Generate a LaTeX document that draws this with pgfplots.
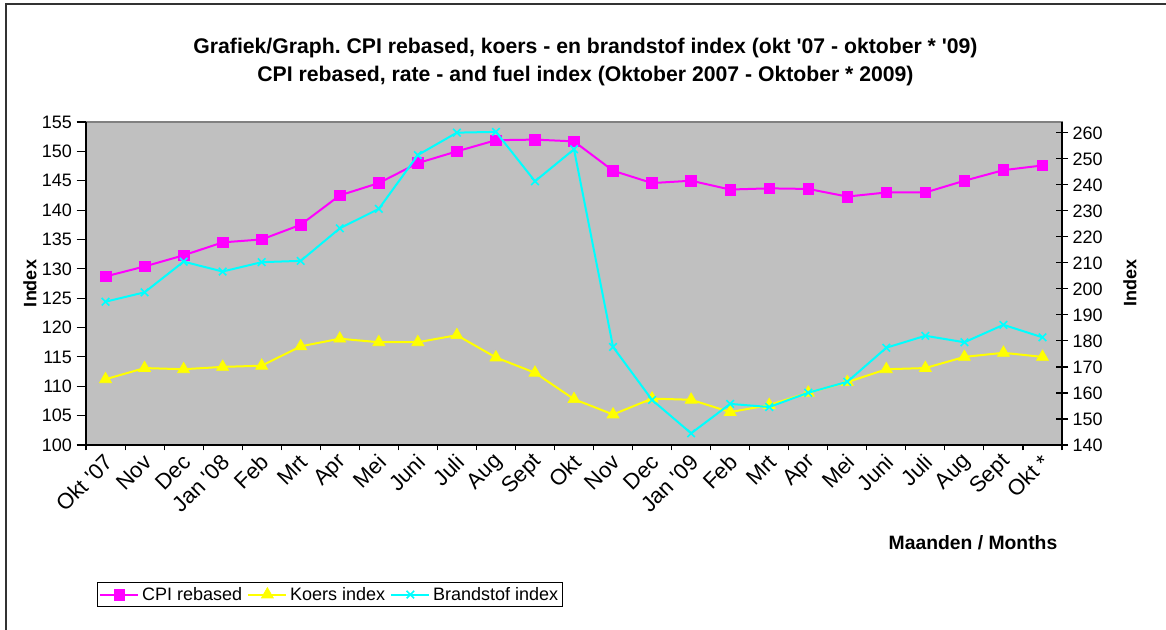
\documentclass[border=0pt]{standalone}
\usepackage{pgfplots}
\pgfplotsset{compat=1.18}
\usepackage{fontspec}
\setmainfont{Liberation Sans}
\frenchspacing
\newcommand\q{\textquotesingle}
\definecolor{plotbg}{RGB}{192,192,192}
\definecolor{cpi}{RGB}{255,0,255}
\definecolor{koers}{RGB}{255,255,0}
\definecolor{brand}{RGB}{0,255,255}
\pgfplotsset{
  common/.style={
    scale only axis,
    width=732pt, height=242.25pt,
    at={(64.5pt,138.75pt)}, anchor=south west,
    xmin=-0.5, xmax=24.5,
    /pgf/number format/assume math mode=true,
    tick label style={font=\fontsize{13.5}{16}\selectfont},
    label style={font=\fontsize{13.5}{16}\selectfont\bfseries},
    axis line style={black, line width=1pt},
    every tick/.style={black, line width=0.8pt},
  }
}
\begin{document}
\begin{tikzpicture}
\useasboundingbox (0,0) rectangle (874.5pt,472.5pt);
\draw[line width=1.2pt, black!80] (4.7pt,0) -- (4.7pt,469.5pt) -- (874.5pt,469.5pt);
\node[align=center, font=\fontsize{15.9}{21}\selectfont\bfseries] at (439.1pt,426pt)
  {Grafiek/Graph. CPI rebased, koers - en brandstof index (okt \q07 - oktober * \q09)\\
   CPI rebased, rate - and fuel index (Oktober 2007 - Oktober * 2009)};
\begin{axis}[common,
  axis background/.style={fill=plotbg, draw=black!50, line width=1pt},
  axis x line*=bottom, axis y line*=left,
  ymin=100, ymax=155, ytick={100,105,...,155},
  xtick={0,...,24},
  xticklabels={Okt \q07,Nov,Dec,Jan \q08,Feb,Mrt,Apr,Mei,Juni,Juli,Aug,Sept,Okt,Nov,Dec,Jan \q09,Feb,Mrt,Apr,Mei,Juni,Juli,Aug,Sept,Okt *},
  major x tick style={draw=none},
  minor xtick={-0.5,0.5,...,24.5},
  minor x tick style={black, line width=0.8pt},
  tick align=outside, minor tick length=4pt,
  major tick length=7pt,
  xticklabel style={rotate=45, anchor=east, xshift=3pt, yshift=-4pt, font=\fontsize{16.5}{18}\selectfont},
  xlabel={Maanden / Months},
  xlabel style={at={(rel axis cs:1,-0.303)}, anchor=east, font=\fontsize{14.5}{17}\selectfont\bfseries},
  ylabel={Index},
  ylabel style={at={(rel axis cs:-0.0574,0.5)}, anchor=center},
  legend style={at={(rel axis cs:0.0113,-0.424)}, anchor=north west, draw=black, line width=0.6pt,
    fill=white, font=\fontsize{13.5}{16}\selectfont, inner sep=1.5pt,
    /tikz/every even column/.append style={column sep=2pt}},
  legend columns=3,
  legend cell align=left,
  legend image code/.code={\draw[mark repeat=2,mark phase=2] plot coordinates {(0cm,0cm) (0.5cm,0cm) (1cm,0cm)};},
]
\addplot[cpi, line width=1.5pt, mark=square*, mark size=4pt, mark options={solid, fill=cpi, draw=cpi, line width=0.5pt}]
 coordinates {(0,128.7)(1,130.4)(2,132.3)(3,134.5)(4,135.0)(5,137.5)(6,142.5)(7,144.6)(8,148.0)(9,150.0)(10,151.9)(11,152.0)(12,151.7)(13,146.7)(14,144.6)(15,145.0)(16,143.5)(17,143.7)(18,143.6)(19,142.3)(20,143.0)(21,143.0)(22,145.0)(23,146.8)(24,147.6)};
\addlegendentry{CPI rebased}
\addplot[koers, line width=1.5pt, mark=triangle*, mark size=5.2pt, mark options={solid, fill=koers, draw=koers, line width=0.5pt}]
 coordinates {(0,111.2)(1,113.1)(2,112.9)(3,113.3)(4,113.5)(5,116.8)(6,118.1)(7,117.5)(8,117.5)(9,118.7)(10,114.9)(11,112.3)(12,107.8)(13,105.2)(14,107.9)(15,107.7)(16,105.6)(17,106.8)(18,108.9)(19,110.7)(20,112.9)(21,113.1)(22,115.0)(23,115.7)(24,115.0)};
\addlegendentry{Koers index}
\addlegendimage{brand, line width=1.5pt, mark=x, mark size=4pt, mark options={solid, line width=1.2pt}}
\addlegendentry{Brandstof index}
\end{axis}
\begin{axis}[common,
  axis x line=none, axis y line*=right,
  ymin=140, ymax=264.2, ytick={140,150,...,260},
  tick align=center, major tick length=9pt,
  ylabel={Index},
  ylabel style={at={(rel axis cs:1.0697,0.5)}, anchor=center},
]
\addplot[brand, line width=1.5pt, mark=x, mark size=4pt, mark options={solid, line width=1.2pt}]
 coordinates {(0,195.1)(1,198.7)(2,210.5)(3,206.7)(4,210.3)(5,210.8)(6,223.3)(7,230.8)(8,251.5)(9,260.1)(10,260.4)(11,241.4)(12,253.7)(13,177.7)(14,157.3)(15,144.5)(16,155.8)(17,154.6)(18,160.1)(19,164.3)(20,177.4)(21,182.0)(22,179.5)(23,186.2)(24,181.4)};
\end{axis}
\end{tikzpicture}
\end{document}
